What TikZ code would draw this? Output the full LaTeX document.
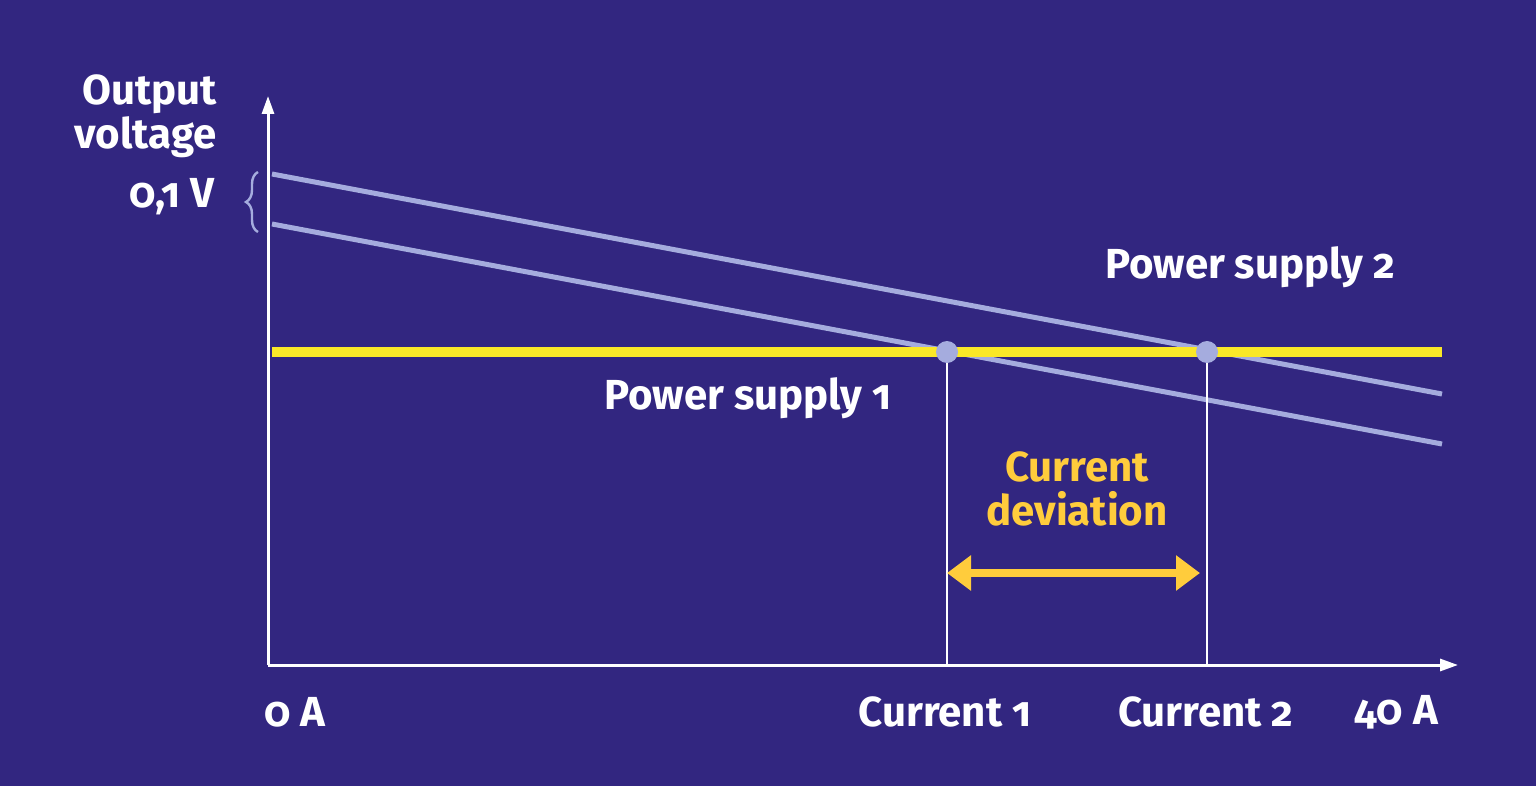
\documentclass[tikz,border=0pt]{standalone}
\usepackage{fontspec}
\setmainfont{Fira Sans}[Numbers=OldStyle]
\usetikzlibrary{arrows.meta,decorations.pathreplacing}
\definecolor{bg}{RGB}{50,38,128}
\definecolor{lb}{RGB}{165,172,222}
\definecolor{yl}{RGB}{250,232,40}
\definecolor{og}{RGB}{255,204,60}
\begin{document}
\begin{tikzpicture}[x=0.5pt,y=-0.5pt,
 lbl/.style={text=white,font=\fontsize{21}{24}\selectfont\bfseries,inner sep=0pt},
 ax/.style={white,line width=1.5pt}]
\fill[bg] (0,0) rectangle (1536,786);
\useasboundingbox (0,0) rectangle (1536,786);
\coordinate (o) at (268,665);
\coordinate (ytop) at (268,96);
\coordinate (xend) at (1458,665);
\draw[ax,-{Triangle[length=9pt,width=6pt]}] (o) -- (ytop);
\draw[ax,-{Triangle[length=9pt,width=6pt]}] (o) -- (xend);
\draw[lb,line width=2.5pt] (272,174) -- (1442,394);
\draw[lb,line width=2.5pt] (272,224) -- (1442,444);
\draw[yl,line width=5pt] (272,352) -- (1442,352);
\node[circle,fill=lb,minimum size=11pt,inner sep=0pt] (d1) at (947,352) {};
\node[circle,fill=lb,minimum size=11pt,inner sep=0pt] (d2) at (1207,352) {};
\coordinate (b1) at (947,665);
\coordinate (b2) at (1207,665);
\draw[white,line width=1.2pt] (d1) -- (b1);
\draw[white,line width=1.2pt] (d2) -- (b2);
\coordinate (a1) at (947,573);
\coordinate (a2) at (1200,573);
\draw[og,line width=4pt,{Triangle[length=12pt,width=17pt]}-{Triangle[length=12pt,width=17pt]}] (a1) -- (a2);
\draw[lb,line width=1.2pt,decorate,decoration={brace,amplitude=6pt}] (258,232) -- (258,172);
\node[lbl,anchor=east,align=right] (yl) at (217,116) {Output\\[-2pt]voltage};
\node[lbl,anchor=east] (v) at (215,197) {0,1 V};
\node[lbl] (x0) at (295,712) {0 A};
\node[lbl] (c1) at (945,712) {Current 1};
\node[lbl] (c2) at (1206,712) {Current 2};
\node[lbl] (x40) at (1396,712) {40 A};
\node[lbl] (p2) at (1250,267) {Power supply 2};
\node[lbl] (p1) at (748,398) {Power supply 1};
\node[lbl,text=og,align=center] (cd) at (1077,489) {Current\\[-2pt]deviation};
\end{tikzpicture}
\end{document}
